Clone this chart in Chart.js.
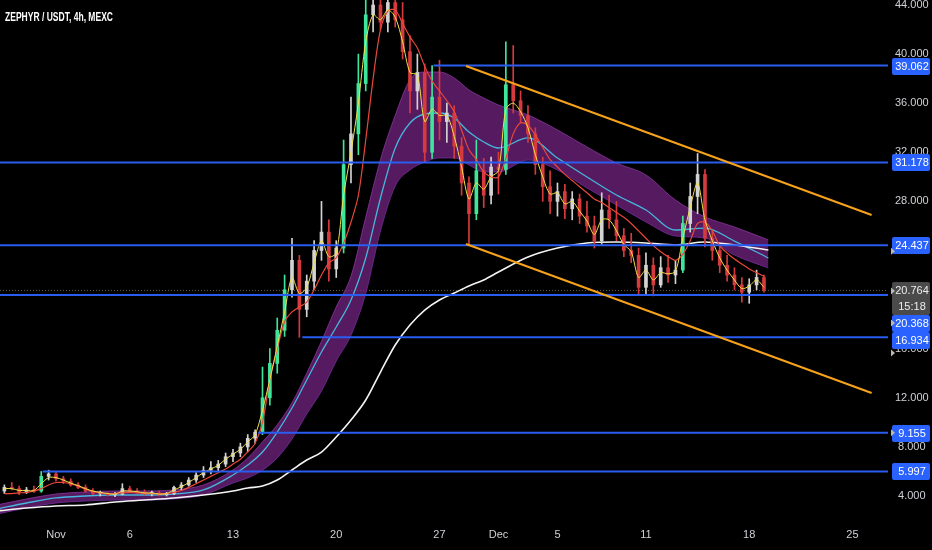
<!DOCTYPE html>
<html><head><meta charset="utf-8">
<script src="https://cdn.jsdelivr.net/npm/chart.js@4.4.0/dist/chart.umd.min.js"></script>
<style>html,body{margin:0;padding:0;background:#000;}canvas{display:block}</style>
</head><body>
<canvas id="c" width="932" height="550"></canvas>
<script>
// ---------- data ----------
const chartTitle = 'ZEPHYR / USDT, 4h, MEXC';
const xTickDays = [0, 5, 12, 19, 26, 30, 34, 40, 47, 54];
const xTickLabels = ['Nov', '6', '13', '20', '27', 'Dec', '5', '11', '18', '25'];
const yTickValues = [4, 8, 12, 16, 20, 24, 28, 32, 36, 40, 44];

// candles (days since Nov 1, 12h step)
const candleStartDay = -3.5;
const candleStepDay = 0.5;
const opens = [4.4,4.7,4.6,4.3,4.5,4.4,5.6,5.8,5.4,5.2,4.9,4.7,4.4,4.2,4.2,4.1,4.15,4.6,4.4,4.3,4.2,4.25,4.1,4.2,4.7,4.9,5.3,5.7,6.1,6.3,6.6,7.2,7.5,8.0,8.7,9.2,12.0,14.8,17.5,20.8,23.2,19.2,21.5,24.0,25.5,22.5,24.2,31.0,33.5,37.6,43.2,44.0,42.6,44.2,42.8,40.2,37.0,38.5,32.0,36.5,34.5,35.2,32.5,29.5,27.0,30.5,28.5,30.8,30.6,37.5,36.2,35.0,33.5,31.0,29.2,28.0,28.8,27.4,28.2,26.8,26.0,24.8,27.3,26.5,25.2,24.0,23.6,21.0,22.8,21.2,22.6,22.0,22.4,26.2,28.4,30.2,25.0,24.0,22.8,22.0,21.2,20.6,21.2,21.8];
const highs = [4.9,5.1,4.8,4.7,4.8,6.0,6.1,6.0,5.6,5.4,5.1,4.9,4.6,4.4,4.3,4.3,5.0,4.8,4.6,4.5,4.4,4.4,4.3,4.8,5.1,5.5,5.9,6.4,6.8,6.9,7.5,7.8,8.3,9.0,9.4,14.5,16.0,18.5,22.0,25.0,23.6,22.0,24.8,28.0,26.5,24.8,33.0,36.5,40.0,44.8,45.5,45.5,44.8,45.0,44.2,41.5,40.0,39.2,39.06,39.5,36.0,35.8,33.2,30.0,33.0,31.5,31.6,32.0,41.0,40.7,37.0,35.8,34.0,31.6,30.5,29.5,29.4,28.8,28.6,28.0,26.8,28.7,28.5,28.0,25.8,25.4,24.2,23.8,23.4,23.5,23.6,23.2,26.8,29.5,31.9,30.6,25.6,24.5,23.6,22.6,21.8,21.7,22.4,22.0];
const lows = [4.2,4.5,4.1,4.2,4.3,4.3,5.3,5.2,5.0,4.8,4.6,4.3,4.1,4.0,4.0,3.95,4.1,4.3,4.2,4.1,4.0,4.0,4.0,4.1,4.5,4.8,5.1,5.5,5.8,6.0,6.4,6.8,7.2,7.6,8.3,9.0,11.4,14.0,17.0,20.2,16.93,18.6,20.8,23.2,21.5,21.8,23.8,29.5,31.8,37.0,41.8,42.0,41.8,42.2,39.6,35.2,35.5,31.2,31.5,33.0,32.8,31.5,28.5,24.44,26.5,27.5,27.8,28.6,30.2,35.2,34.4,32.8,30.2,28.0,27.0,26.8,26.6,26.5,26.2,25.5,24.2,24.5,25.8,24.8,23.5,23.0,20.4,20.37,20.3,21.0,21.4,21.3,22.2,25.5,27.0,24.3,23.2,22.2,21.5,20.8,19.8,19.7,20.8,20.6];
const closes = [4.7,4.6,4.3,4.5,4.4,5.6,5.8,5.4,5.2,4.9,4.7,4.4,4.2,4.2,4.1,4.15,4.6,4.4,4.3,4.2,4.25,4.1,4.2,4.7,4.9,5.3,5.7,6.1,6.3,6.6,7.2,7.5,8.0,8.7,9.2,12.0,14.8,17.5,20.8,23.2,19.2,21.5,24.0,25.5,22.5,24.2,31.0,33.5,37.6,43.2,44.0,42.6,44.2,42.8,40.2,37.0,38.5,32.0,36.5,34.5,35.2,32.5,29.5,27.0,30.5,28.5,30.8,30.6,37.5,36.2,35.0,33.5,31.0,29.2,28.0,28.8,27.4,28.2,26.8,26.0,24.8,27.3,26.5,25.2,24.0,23.6,21.0,22.8,21.2,22.6,22.0,22.4,26.2,28.4,30.2,25.0,24.0,22.8,22.0,21.2,20.6,21.2,21.8,20.76];

// fast (yellow) and slow (red) averages, one value per candle
const fastMA = [4.6,4.6,4.45,4.45,4.45,5.0,5.5,5.5,5.3,5.05,4.85,4.6,4.4,4.3,4.2,4.15,4.4,4.4,4.35,4.25,4.25,4.15,4.2,4.5,4.75,5.1,5.5,5.9,6.2,6.5,7.0,7.4,7.8,8.4,9.0,11.0,13.5,16.2,19.0,21.8,20.5,21.0,23.0,24.8,23.5,23.8,28.5,32.0,36.0,41.0,43.2,42.8,43.6,43.0,41.0,38.5,38.3,34.5,35.5,35.0,35.0,33.3,30.8,28.2,29.5,29.0,30.0,30.5,35.5,36.0,35.3,34.0,31.8,30.0,28.6,28.7,27.8,28.0,27.2,26.4,25.3,26.5,26.5,25.6,24.5,23.9,21.8,22.4,21.6,22.2,22.1,22.3,25.0,27.5,29.5,26.5,24.8,23.4,22.4,21.6,20.9,21.1,21.6,21.0];
const slowMA = [4.2,4.2,4.25,4.3,4.4,4.6,4.9,5.1,5.1,5.0,4.8,4.55,4.35,4.25,4.2,4.2,4.25,4.3,4.25,4.2,4.2,4.2,4.2,4.3,4.45,4.7,5.0,5.3,5.6,5.9,6.2,6.6,7.0,7.6,8.3,10.0,13.5,16.0,18.2,19.0,19.4,19.8,20.8,22.0,23.0,23.4,24.6,26.3,28.5,33.0,38.0,42.0,43.5,43.6,42.5,41.4,40.5,39.0,37.8,37.0,36.2,35.3,33.8,32.2,31.4,30.4,30.0,30.0,31.5,33.5,34.4,34.2,33.4,32.4,31.4,30.8,30.2,29.7,29.2,28.7,28.2,27.9,27.5,27.1,26.7,26.2,25.6,25.0,24.4,23.9,23.5,23.2,23.7,24.8,26.2,26.3,25.6,24.4,23.8,23.3,22.9,22.5,22.2,21.9];

// slower indicators, sampled on these days
const indicatorDays = [-4,-2,0,2,4,6,8,10,12,13,14,15,16,17,18,19,20,21,22,23,24,25,26,27,28,29,30,32,34,36,38,40,42,44,46,48.3];
const midLine = [2.94,3.43,3.84,4.00,4.08,4.08,4.16,4.49,5.71,6.52,7.58,9.21,11.17,13.45,15.73,17.77,19.97,23.39,28.28,32.35,34.39,35.12,35.20,34.79,33.65,32.84,32.35,33.17,31.54,29.99,28.52,27.30,25.67,25.83,24.77,23.39];
const ribbonUpper = [3.27,3.76,4.16,4.33,4.41,4.41,4.49,4.90,6.12,7.1,8.4,9.8,11.6,14.0,16.6,19.4,21.9,26.7,31.4,35.0,37.9,38.54,38.54,38.05,37.08,36.42,35.85,35.04,33.82,32.43,31.13,30.15,28.11,26.73,25.91,24.86];
const ribbonLower = [2.53,3.02,3.43,3.59,3.67,3.67,3.76,4.08,5.06,5.47,6.1,7.1,8.64,10.68,12.55,15.0,17.1,20.5,25.6,29.25,30.56,31.21,31.54,31.54,30.97,30.40,30.40,31.37,30.56,29.09,27.71,26.32,25.18,25.02,23.63,22.57];
const longMA = [2.78,3.02,3.19,3.27,3.51,3.67,3.84,4.08,4.41,4.65,4.81,5.30,6.12,6.93,7.58,8.81,10.19,11.82,14.10,16.30,17.93,19.15,19.97,20.54,21.11,21.60,22.25,23.47,24.20,24.61,24.69,24.61,24.45,24.69,24.45,24.04];

// drawn levels and channel
const levels = [39.062, 31.178, 24.437, 20.368, 16.934, 9.155, 5.997];
const levelStartDays = [25.6, null, null, null, 16.7, 13.7, -0.9];
const channelDays = [27.8, 55.3];
const channelUpper = [39.03, 26.89];
const channelLower = [24.53, 12.39];
const lastPrice = 20.764;
const countdown = '15:18';

// ---------- view ----------
const X_MIN = -3.797, X_MAX = 56.41;
const Y_MIN = 2.207, Y_MAX = 44.407;
const FONT = "'Liberation Sans', Arial, sans-serif";

const candleDay = i => candleStartDay + candleStepDay * i;
const upCol = '#d3d3d3', downCol = '#d63a3e', strongUpCol = '#3ee59a';
const candleColors = opens.map((o, i) => {
  const c = closes[i];
  if (c >= o) return (c - o) / o > 0.12 ? strongUpCol : upCol;
  return downCol;
});
const wickData = opens.map((o, i) => ({x: candleDay(i), y: [lows[i], highs[i]]}));
const bodyData = opens.map((o, i) => ({x: candleDay(i), y: [Math.min(o, closes[i]), Math.max(o, closes[i])]}));
const seriesPts = (days, vals) => vals.map((v, i) => ({x: days[i], y: v}));
const candleDays = opens.map((o, i) => candleDay(i));

const datasets = [];
levels.forEach((lv, i) => {
  datasets.push({type: 'line', data: [{x: levelStartDays[i] ?? X_MIN, y: lv}, {x: X_MAX, y: lv}],
    borderColor: '#2a5cf0', borderWidth: 2, pointRadius: 0, order: 3});
});
datasets.push({type: 'line', data: seriesPts(channelDays, channelUpper), borderColor: '#f7a21b', borderWidth: 2, pointRadius: 0, order: 2});
datasets.push({type: 'line', data: seriesPts(channelDays, channelLower), borderColor: '#f7a21b', borderWidth: 2, pointRadius: 0, order: 2});
datasets.push({type: 'line', data: seriesPts(candleDays, fastMA), borderColor: '#f2e04a', borderWidth: 1, pointRadius: 0, tension: 0.3, order: 4});
datasets.push({type: 'line', data: seriesPts(candleDays, slowMA), borderColor: '#e8483a', borderWidth: 1.2, pointRadius: 0, tension: 0.3, order: 5});
datasets.push({type: 'bar', data: bodyData, backgroundColor: candleColors, barThickness: 3, grouped: false, minBarLength: 1, order: 6});
datasets.push({type: 'bar', data: wickData, backgroundColor: candleColors, barThickness: 1, grouped: false, order: 7});
datasets.push({type: 'line', data: seriesPts(indicatorDays, longMA), borderColor: '#f4f4f4', borderWidth: 1.6, pointRadius: 0, cubicInterpolationMode: 'monotone', order: 8});
datasets.push({type: 'line', data: seriesPts(indicatorDays, midLine), borderColor: '#45b6dc', borderWidth: 1.3, pointRadius: 0, cubicInterpolationMode: 'monotone', order: 9});
datasets.push({type: 'line', data: seriesPts(indicatorDays, ribbonUpper), borderColor: 'rgba(140,55,160,0.8)', borderWidth: 1, pointRadius: 0, cubicInterpolationMode: 'monotone', fill: '+1', backgroundColor: 'rgba(126,38,140,0.68)', order: 10});
datasets.push({type: 'line', data: seriesPts(indicatorDays, ribbonLower), borderColor: 'rgba(110,50,170,0.8)', borderWidth: 1, pointRadius: 0, cubicInterpolationMode: 'monotone', fill: false, order: 11});

const overlay = {
  id: 'overlay',
  beforeDatasetsDraw(chart) {
    const {ctx, chartArea: a, scales: {y}} = chart;
    ctx.save();
    ctx.strokeStyle = 'rgba(130,115,70,0.8)';
    ctx.setLineDash([1, 2]);
    ctx.lineWidth = 1;
    const py = Math.round(y.getPixelForValue(lastPrice)) + 0.5;
    ctx.beginPath(); ctx.moveTo(a.left, py); ctx.lineTo(a.right, py); ctx.stroke();
    ctx.restore();
  },
  afterDraw(chart) {
    const {ctx, scales: {y}} = chart;
    ctx.save();
    // title, condensed to match the narrow UI font
    ctx.fillStyle = '#ffffff';
    ctx.font = "bold 12px 'Liberation Sans', Arial, sans-serif";
    ctx.textBaseline = 'middle';
    ctx.textAlign = 'left';
    const tw = ctx.measureText(chartTitle).width;
    ctx.save();
    ctx.translate(5, 18);
    ctx.scale(108 / tw, 1);
    ctx.fillText(chartTitle, 0, 0);
    ctx.restore();

    const bx = 892, bw = 38, bh = 17;
    const box = (top, h, fill) => {
      ctx.fillStyle = fill;
      ctx.beginPath();
      ctx.roundRect(bx, top, bw, h, 2);
      ctx.fill();
    };
    const txt = (s, cy, col) => {
      ctx.fillStyle = col;
      ctx.font = '11px ' + FONT;
      ctx.textAlign = 'center';
      ctx.textBaseline = 'middle';
      ctx.fillText(s, bx + bw / 2 + 1, cy + 0.5);
    };
    const pTop = Math.round(y.getPixelForValue(lastPrice)) - 8;
    box(pTop, 33, '#4a4a4a');
    txt(lastPrice.toFixed(3), pTop + 8, '#ececec');
    txt(countdown, pTop + 24, '#ececec');
    let stackTop = pTop + 33;
    levels.forEach(lv => {
      let top = Math.round(y.getPixelForValue(lv)) - 8;
      if (lv < lastPrice && lv > 15) { top = Math.max(top, stackTop); stackTop = top + bh; }
      box(top, bh, '#2962ff');
      txt(lv.toFixed(3), top + bh / 2, '#ffffff');
    });
    ctx.fillStyle = '#b8b8b8';
    const marks = [y.getPixelForValue(24.437) + 6, pTop + 9, pTop + 41, pTop + 71, y.getPixelForValue(9.155)];
    marks.forEach(my => {
      ctx.beginPath();
      ctx.moveTo(891, my - 3.5); ctx.lineTo(895, my); ctx.lineTo(891, my + 3.5); ctx.closePath(); ctx.fill();
    });
    ctx.restore();
  }
};

const zeroPad = s => { s.paddingTop = 0; s.paddingBottom = 0; s.paddingLeft = 0; s.paddingRight = 0; };

new Chart(document.getElementById('c'), {
  type: 'line',
  data: {datasets},
  options: {
    responsive: false, animation: false, devicePixelRatio: 1,
    layout: {padding: 0},
    plugins: {legend: {display: false}, tooltip: {enabled: false}, title: {display: false}},
    scales: {
      x: {
        type: 'linear', min: X_MIN, max: X_MAX, offset: false,
        grid: {display: false, drawTicks: false}, border: {display: false},
        afterBuildTicks: s => { s.ticks = xTickDays.map(v => ({value: v})); },
        afterFit: s => { s.height = 32; zeroPad(s); },
        ticks: {color: '#cfd1d6', font: {size: 11, family: FONT}, padding: 10, maxRotation: 0, autoSkip: false,
          callback: v => xTickLabels[xTickDays.indexOf(v)]}
      },
      y: {
        type: 'linear', position: 'right', min: Y_MIN, max: Y_MAX,
        grid: {display: false, drawTicks: false}, border: {display: false},
        afterBuildTicks: s => { s.ticks = yTickValues.map(v => ({value: v})); },
        afterFit: s => { s.width = 44; zeroPad(s); },
        ticks: {color: '#cfd1d6', font: {size: 11, family: FONT}, padding: 7, crossAlign: 'center',
          callback: v => Number(v).toFixed(3)}
      }
    }
  },
  plugins: [overlay]
});
</script>
</body></html>
